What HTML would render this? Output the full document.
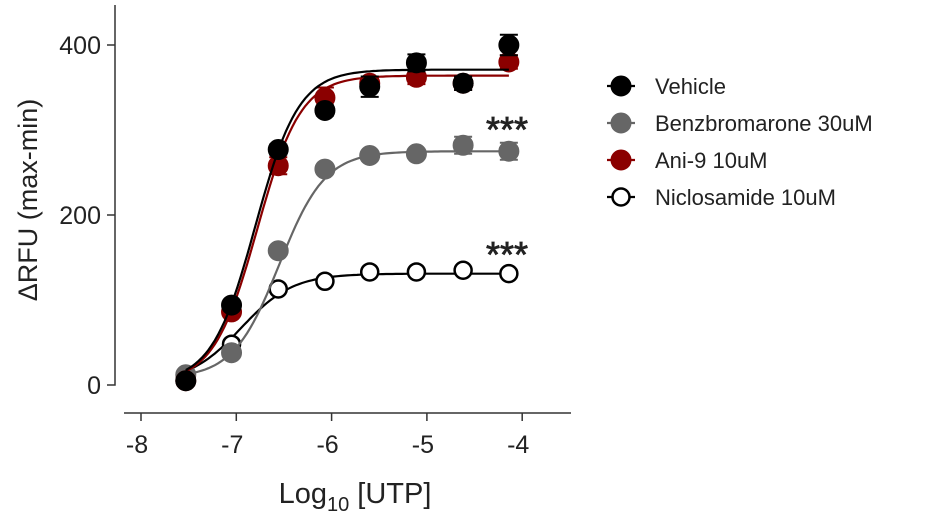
<!DOCTYPE html>
<html><head><meta charset="utf-8"><style>
body{margin:0;background:#fff;width:931px;height:518px;overflow:hidden}
svg text{font-family:"Liberation Sans",sans-serif;fill:#222}
</style></head><body>
<svg id="chart" width="931" height="518"></svg>
<script>
const xLog = [-7.53, -7.05, -6.56, -6.07, -5.6, -5.11, -4.62, -4.14];
const vehicle = [5, 94, 277, 323, 351, 379, 355, 400];
const vehicleErr = [3, 5, 6, 6, 12, 10, 8, 12];
const ani9 = [5, 86, 258, 338, 355, 362, 355, 380];
const ani9Err = [3, 5, 10, 12, 6, 8, 8, 8];
const benz = [12, 38, 158, 254, 270, 272, 282, 275];
const benzErr = [3, 4, 5, 5, 5, 5, 10, 10];
const niclo = [5, 48, 113, 122, 133, 133, 135, 131];
const nicloErr = [2, 3, 3, 3, 3, 3, 3, 3];
// fit params in order: vehicle, benz, ani9, niclo
const fitBottom = [3, 8, 3, 3];
const fitTop = [371, 275, 364, 131];
const fitEC50 = [-6.8, -6.55, -6.78, -6.95];
const fitHill = [1.9, 1.8, 1.9, 1.6];
const xTicks = [-8, -7, -6, -5, -4];
const yTicks = [0, 200, 400];
const seriesNames = ["Vehicle", "Benzbromarone 30uM", "Ani-9 10uM", "Niclosamide 10uM"];

const NS = "http://www.w3.org/2000/svg";
const svg = document.getElementById('chart');
const X = v => 141 + (v + 8) * 95.3;
const Y = v => 385 - v * 0.85;
function mk(tag, attrs, parent) {
  const e = document.createElementNS(NS, tag);
  for (const k in attrs) e.setAttribute(k, attrs[k]);
  (parent || svg).appendChild(e);
  return e;
}
const yAxis = mk('path', {d: `M115 5 V385 H107 M107 ${Y(200)} H115 M107 ${Y(400)} H115`, stroke: '#333', 'stroke-width': 1.5, fill: 'none'});


let xd = 'M124 413 H571';
xTicks.forEach(t => xd += ` M${X(t)} 413 V421`);
const xAxis = mk('path', {d: xd, stroke: '#333', 'stroke-width': 1.5, fill: 'none'});


xTicks.forEach(t => {
  const tx = mk('text', {x: X(t) - 4, y: 453, 'font-size': 25, 'text-anchor': 'middle'});
  tx.textContent = '-' + Math.abs(t);
  
  
});
yTicks.forEach(t => {
  const tx = mk('text', {x: 101, y: Y(t) + 9, 'font-size': 25, 'text-anchor': 'end'});
  tx.textContent = t;
  
  
});
const yt = mk('text', {x: 0, y: 0, 'font-size': 27, 'text-anchor': 'middle', transform: 'translate(37,200) rotate(-90)'});
yt.textContent = 'ΔRFU (max-min)';


const xt = mk('text', {x: 355, y: 503, 'font-size': 29, 'text-anchor': 'middle'});
xt.innerHTML = 'Log<tspan font-size="20" dy="8">10</tspan><tspan dy="-8"> [UTP]</tspan>';



const series = [
  {v: vehicle, e: vehicleErr, col: '#000', fill: '#000', i: 0},
  {v: benz, e: benzErr, col: '#666', fill: '#666', i: 1},
  {v: ani9, e: ani9Err, col: '#8b0000', fill: '#8b0000', i: 2},
  {v: niclo, e: nicloErr, col: '#000', fill: '#fff', i: 3}
];
const order = [3, 1, 2, 0];
order.forEach(si => {
  const s = series[si];
  const g = mk('g', {});
  
  
  let d = '';
  for (let k = 0; k <= 100; k++) {
    const lx = xLog[0] + (xLog[7] - xLog[0]) * k / 100;
    const val = fitBottom[s.i] + (fitTop[s.i] - fitBottom[s.i]) / (1 + Math.pow(10, (fitEC50[s.i] - lx) * fitHill[s.i]));
    d += (k ? 'L' : 'M') + X(lx).toFixed(1) + ' ' + Y(val).toFixed(1);
  }
  const c = mk('path', {d, stroke: s.col, 'stroke-width': 2.2, fill: 'none'}, g);
  
  
  s.v.forEach((v, j) => {
    const x = X(xLog[j]);
    const eb = mk('path', {d: `M${x} ${Y(v + s.e[j])} V${Y(v - s.e[j])} M${x - 9} ${Y(v + s.e[j])} H${x + 9} M${x - 9} ${Y(v - s.e[j])} H${x + 9}`, stroke: s.col, 'stroke-width': 2, fill: 'none'}, g);
    
    
    const p = mk('circle', {cx: x, cy: Y(v), r: s.i === 3 ? 8.5 : 10, fill: s.fill, stroke: s.col, 'stroke-width': s.i === 3 ? 2.5 : 1}, g);
    
    
  });
});
[[507, 142], [507, 267]].forEach(([x, y]) => {
  const t = mk('text', {x, y, 'font-size': 36, 'text-anchor': 'middle', stroke: '#222', 'stroke-width': 0.8});
  t.textContent = '***';
  
  
});
const leg = mk('g', {});


const legY = [86, 123, 160, 197];
seriesNames.forEach((n, i) => {
  const s = series[i];
  const g = mk('g', {}, leg);
  
  
  mk('line', {x1: 607, x2: 635, y1: legY[i], y2: legY[i], stroke: s.col, 'stroke-width': 2.2}, g);
  mk('circle', {cx: 621, cy: legY[i], r: i === 3 ? 8.5 : 10, fill: s.fill, stroke: s.col, 'stroke-width': i === 3 ? 2.5 : 1}, g);
  const t = mk('text', {x: 655, y: legY[i] + 8, 'font-size': 22}, g);
  t.textContent = n;
});
</script>
</body></html>
